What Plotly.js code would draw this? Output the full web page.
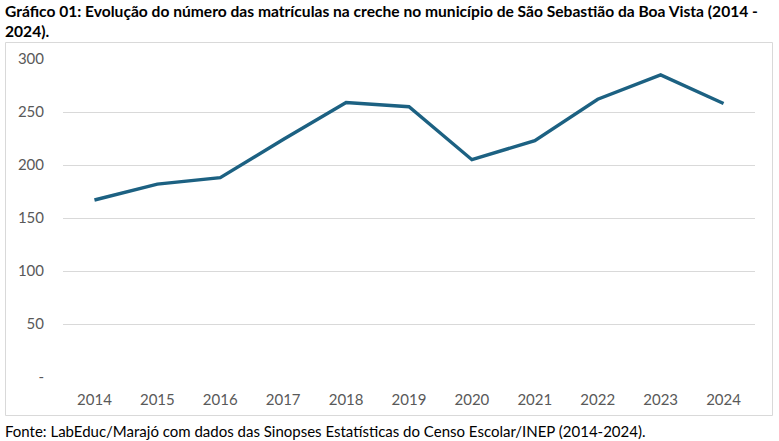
<!DOCTYPE html>
<html>
<head>
<meta charset="utf-8">
<script src="https://cdn.plot.ly/plotly-3.0.1.min.js"></script>
<style>
html,body{margin:0;padding:0;background:#fff;}
#chart{width:779px;height:441px;}
</style>
</head>
<body>
<div id="chart"></div>
<script>
var years = ['2014','2015','2016','2017','2018','2019','2020','2021','2022','2023','2024'];
var matriculas = [167, 182, 188, 224, 259, 255, 205, 223, 262, 285, 258];
var yTickVals = [0, 50, 100, 150, 200, 250, 300];
var yTickText = ['-', '50', '100', '150', '200', '250', '300'];

var W = 779, H = 441;
var mL = 63, mR = W - 755, mT = 59, mB = H - 377;
var pw = W - mL - mR, ph = H - mT - mB;
function px(x){ return (x - mL) / pw; }
function py(y){ return (H - mB - y) / ph; }

var fontFam = 'Lato, "Liberation Sans", Arial, sans-serif';

var trace = {
  x: years,
  y: matriculas,
  type: 'scatter',
  mode: 'lines',
  line: {color: '#1c6182', width: 3.4},
  hoverinfo: 'x+y'
};

var layout = {
  width: W, height: H,
  margin: {l: mL, r: mR, t: mT, b: mB, pad: 0},
  paper_bgcolor: '#fff',
  plot_bgcolor: '#fff',
  showlegend: false,
  font: {family: fontFam, color: '#595959', size: 15},
  xaxis: {
    type: 'category',
    range: [-0.5, 10.5],
    showgrid: false,
    zeroline: false,
    showline: false,
    ticks: '',
    ticklabelstandoff: 12,
    tickfont: {size: 15, color: '#595959', family: fontFam},
    fixedrange: true
  },
  yaxis: {
    range: [0, 300],
    tickvals: yTickVals,
    ticktext: yTickText,
    showgrid: true,
    gridcolor: '#d9d9d9',
    gridwidth: 1,
    zeroline: false,
    showline: false,
    ticks: '',
    ticklabelstandoff: 18,
    tickfont: {size: 15, color: '#595959', family: fontFam},
    fixedrange: true
  },
  shapes: [{
    type: 'rect', xref: 'paper', yref: 'paper',
    x0: px(5.5), x1: px(772.5), y0: py(415.5), y1: py(42.5),
    line: {color: '#d9d9d9', width: 1},
    fillcolor: 'rgba(0,0,0,0)',
    layer: 'below'
  }],
  annotations: [
    {
      xref: 'paper', yref: 'paper',
      x: px(3), y: py(0), xanchor: 'left', yanchor: 'top',
      align: 'left', showarrow: false,
      text: '<b>Gráfico 01: Evolução do número das matrículas na creche no município de São Sebastião da Boa Vista (2014 -<br>2024).</b>',
      font: {family: fontFam, size: 15.6, color: '#000'}
    },
    {
      xref: 'paper', yref: 'paper',
      x: px(3), y: py(420), xanchor: 'left', yanchor: 'top',
      align: 'left', showarrow: false,
      text: 'Fonte: LabEduc/Marajó com dados das Sinopses Estatísticas do Censo Escolar/INEP (2014-2024).',
      font: {family: fontFam, size: 15, color: '#000'}
    }
  ]
};

Plotly.newPlot('chart', [trace], layout, {displayModeBar: false, staticPlot: true});
</script>
</body>
</html>
